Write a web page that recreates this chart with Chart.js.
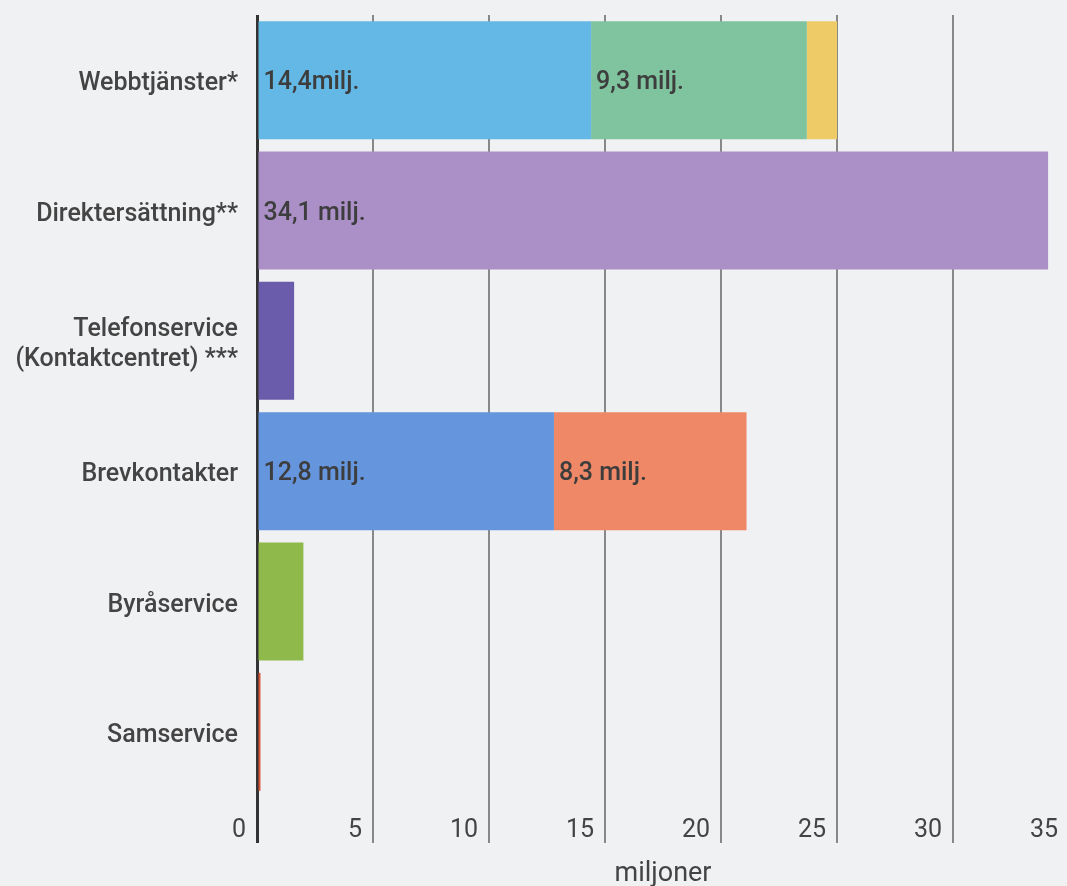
<!DOCTYPE html>
<html>
<head>
<meta charset="utf-8">
<script src="https://cdn.jsdelivr.net/npm/chart.js@4"></script>
<style>
  html, body { margin: 0; padding: 0; background: #f0f1f3; overflow: hidden; }
  #wrap { position: absolute; left: 0; top: 0; width: 1070px; height: 886px; }
</style>
</head>
<body>
<div id="wrap"><canvas id="c"></canvas></div>
<script>
const categories = ['Webbtjänster*', 'Direktersättning**', ['Telefonservice', '(Kontaktcentret) ***'], 'Brevkontakter', 'Byråservice', 'Samservice'];
const firstPart = [14.4, 34.1, 1.6, 12.8, 2.0, 0.15];
const secondPart = [9.3, null, null, 8.3, null, null];
const thirdPart = [1.3, null, null, null, null, null];
const firstLabels = ['14,4milj.', '34,1 milj.', '', '12,8 milj.', '', ''];
const secondLabels = ['9,3 milj.', '', '', '8,3 milj.', '', ''];
const xTicks = [0, 5, 10, 15, 20, 25, 30, 35];

const firstColors = ['#63b8e6', '#ab90c8', '#6a5bab', '#6595dd', '#8fba4b', '#d9553a'];
const secondColors = ['#7fc49f', '#7fc49f', '#7fc49f', '#ee8866', '#ee8866', '#ee8866'];
const thirdColors = ['#efcb68', '#efcb68', '#efcb68', '#efcb68', '#efcb68', '#efcb68'];

Chart.defaults.font.family = 'Roboto, "Noto Sans", sans-serif';
Chart.defaults.color = '#444';

// writes the "xx milj." text at the left edge of a segment
const segLabels = {
  id: 'segLabels',
  afterDatasetsDraw(chart){
    const ctx = chart.ctx;
    const texts = [firstLabels, secondLabels];
    ctx.save();
    ctx.font = '500 25px Roboto, sans-serif';
    ctx.fillStyle = '#3d3d3d';
    ctx.textAlign = 'left';
    ctx.textBaseline = 'middle';
    texts.forEach((list, di)=>{
      const meta = chart.getDatasetMeta(di);
      meta.data.forEach((bar, i)=>{
        if(!list[i]) return;
        const p = bar.getProps(['x', 'y', 'base'], true);
        ctx.fillText(list[i], Math.min(p.x, p.base) + 5, p.y + 3);
      });
    });
    ctx.restore();
  }
};

new Chart(document.getElementById('c'), {
  type: 'bar',
  data: {
    labels: categories,
    datasets: [
      { data: firstPart, backgroundColor: firstColors },
      { data: secondPart, backgroundColor: secondColors },
      { data: thirdPart, backgroundColor: thirdColors }
    ]
  },
  options: {
    indexAxis: 'y',
    responsive: true,
    maintainAspectRatio: false,
    animation: false,
    barPercentage: 0.905,
    categoryPercentage: 1,
    layout: { padding: { top: 15, right: 1, bottom: 0, left: 0 } },
    plugins: { legend: { display: false }, tooltip: { enabled: false } },
    scales: {
      x: {
        stacked: true,
        min: 0,
        max: 35,
        afterBuildTicks: s => { s.ticks = xTicks.map(v => ({ value: v })); },
        afterFit: s => { s.height = 89; s.paddingLeft = 0; s.paddingRight = 0; },
        grid: {
          color: c => c.tick && c.tick.value === 0 ? '#333' : '#888',
          lineWidth: c => c.tick && c.tick.value === 0 ? 3 : 2,
          tickLength: 46
        },
        border: { display: false },
        ticks: {
          font: { size: 25 },
          color: '#444',
          align: 'end',
          labelOffset: -11,
          padding: -27,
          maxRotation: 0
        },
        title: {
          display: true,
          text: 'miljoner',
          font: { size: 27 },
          color: '#444',
          padding: { top: 0, bottom: -4 }
        }
      },
      y: {
        stacked: true,
        afterFit: s => { s.width = 257; s.paddingTop = 0; s.paddingBottom = 0; },
        grid: { display: false },
        border: { display: false },
        ticks: {
          font: { size: 25, weight: '500', lineHeight: 1.2 },
          color: '#444',
          padding: 11,
          labelOffset: 4
        }
      }
    }
  },
  plugins: [segLabels]
});
</script>
</body>
</html>
